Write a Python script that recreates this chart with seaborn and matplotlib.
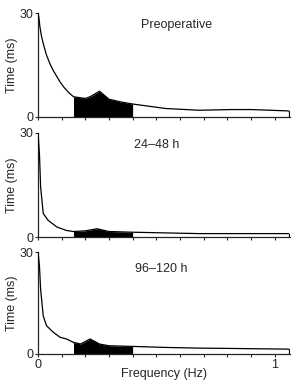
import numpy as np
import seaborn as sns
import matplotlib.pyplot as plt

titles = ['Preoperative', '24\u201348 h', '96\u2013120 h']

freq_pre = [0.0, 0.004, 0.008, 0.015, 0.022, 0.035, 0.05, 0.065, 0.08, 0.095, 0.11, 0.13, 0.15, 0.2, 0.22, 0.26, 0.3, 0.35, 0.4, 0.54, 0.68, 0.82, 0.9, 1.06]
time_pre = [30, 28.5, 26, 23.2, 21.2, 18, 15.4, 13.3, 11.6, 9.9, 8.5, 7, 5.8, 5.3, 5.8, 7.4, 5.1, 4.3, 3.7, 2.4, 1.9, 2.1, 2.1, 1.7]

freq_24 = [0.0, 0.006, 0.011, 0.022, 0.043, 0.08, 0.12, 0.15, 0.2, 0.25, 0.3, 0.4, 0.54, 0.68, 1.06]
time_24 = [30, 24, 14.5, 6.8, 4.8, 2.9, 1.9, 1.6, 1.8, 2.4, 1.6, 1.4, 1.2, 1.0, 1.0]

freq_96 = [0.0, 0.006, 0.011, 0.022, 0.036, 0.064, 0.093, 0.12, 0.15, 0.18, 0.22, 0.26, 0.3, 0.4, 0.54, 0.68, 0.82, 1.06]
time_96 = [30, 26, 19, 11.2, 8.3, 6.4, 4.9, 4.4, 3.4, 2.9, 4.4, 2.9, 2.4, 2.2, 1.9, 1.7, 1.6, 1.4]

band = (0.15, 0.40)

sns.set_style('ticks')
plt.rcParams['font.family'] = ['Liberation Sans', 'DejaVu Sans']

fig = plt.figure(figsize=(2.97, 3.83), dpi=100)
boxes = [[0.128, 0.695, 0.848, 0.271],
         [0.128, 0.381, 0.848, 0.272],
         [0.128, 0.076, 0.848, 0.266]]
title_pos = [(0.55, 0.88), (0.47, 0.88), (0.49, 0.83)]
series = [(freq_pre, time_pre), (freq_24, time_24), (freq_96, time_96)]

for i, (f, t) in enumerate(series):
    ax = fig.add_axes(boxes[i])
    f = np.array(f)
    t = np.array(t)
    ax.fill_between(f, 0, t, color='white', zorder=1)
    m = (f >= band[0]) & (f <= band[1])
    ax.fill_between(f[m], 0, t[m], color='black', lw=0, zorder=2)
    sns.lineplot(x=f, y=t, ax=ax, color='black', lw=0.9, zorder=3)
    ax.plot([f[-1], f[-1]], [0, t[-1]], color='black', lw=0.9)
    ax.set_xlim(0, 1.065)
    ax.set_ylim(0, 30)
    sns.despine(ax=ax)
    ax.spines['left'].set_linewidth(0.9)
    ax.spines['bottom'].set_linewidth(0.9)
    ax.set_yticks([0, 30])
    ax.set_yticklabels(['0', '30'], fontsize=9)
    ax.set_xticks(np.arange(0, 1.01, 0.1))
    if i == 2:
        ax.set_xticklabels(['0'] + [''] * 9 + ['1'], fontsize=9)
        ax.set_xlabel('Frequency (Hz)', fontsize=9)
        ax.xaxis.set_label_coords(0.5, -0.14)
    else:
        ax.set_xticklabels([])
    ax.tick_params(length=2.5, width=0.8, pad=1)
    ax.set_ylabel('Time (ms)', fontsize=9, labelpad=1)
    ax.text(title_pos[i][0], title_pos[i][1], titles[i], transform=ax.transAxes,
            fontsize=9, ha='center', va='center')

fig.savefig('out.png', dpi=100)
